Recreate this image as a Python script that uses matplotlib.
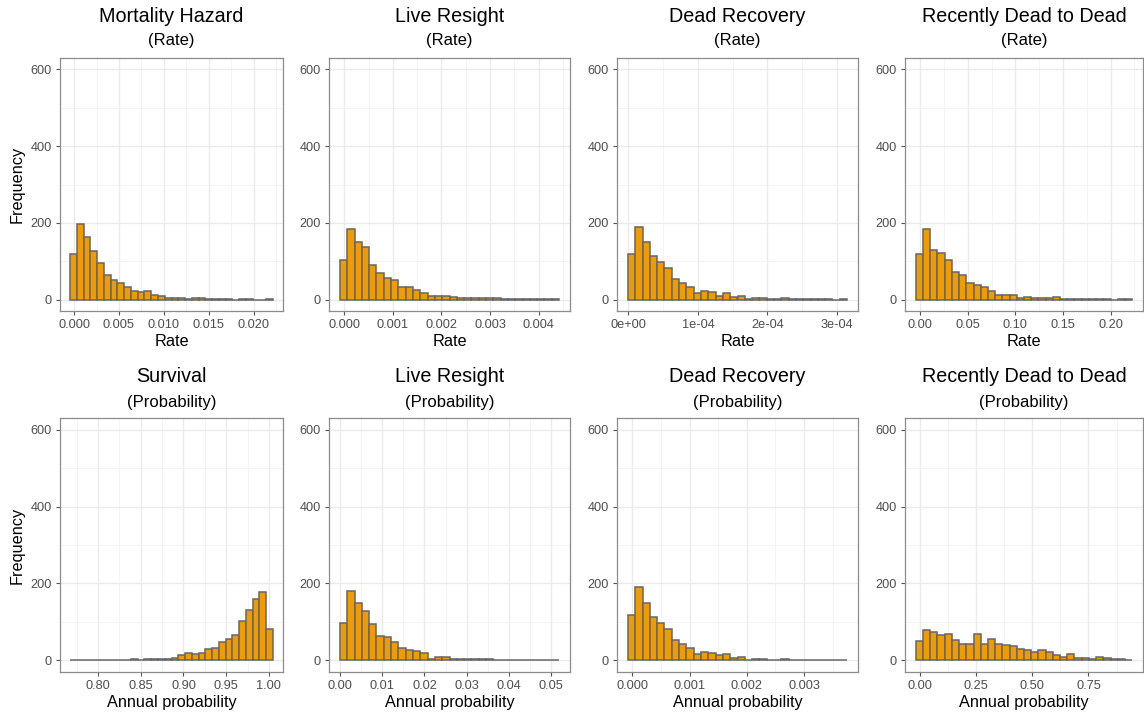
import numpy as np
import matplotlib
matplotlib.use("Agg")
from matplotlib import pyplot as plt
from matplotlib.ticker import MultipleLocator, FuncFormatter

plt.rcParams['font.family'] = ['Liberation Sans', 'DejaVu Sans']

# panel titles
titles = ['Mortality Hazard', 'Live Resight', 'Dead Recovery', 'Recently Dead to Dead',
          'Survival', 'Live Resight', 'Dead Recovery', 'Recently Dead to Dead']
subtitles = ['(Rate)'] * 4 + ['(Probability)'] * 4
xlabels = ['Rate'] * 4 + ['Annual probability'] * 4

# histogram bin ranges (30 bins each)
bin_lo = [-0.00044, -0.000088, -0.0063e-4, -0.00445, 0.7673, -0.0001, -0.000075, -0.0189]
bin_hi = [0.02214, 0.00442, 3.145e-4, 0.2226, 1.0047, 0.0520, 0.00375, 0.9448]

# counts per bin
mh_rate = [120, 198, 162, 127, 95, 65, 50, 43, 32, 23, 19, 22, 13, 8, 5, 3, 5, 2, 3, 3, 2, 1, 1, 1, 0, 1, 1, 0, 0, 1]
lr_rate = [103, 184, 151, 136, 91, 68, 57, 50, 33, 32, 25, 16, 10, 9, 10, 7, 3, 5, 3, 3, 5, 3, 1, 1, 1, 1, 2, 1, 1, 1]
dr_rate = [119, 190, 150, 113, 97, 82, 54, 43, 32, 17, 23, 20, 10, 17, 6, 8, 2, 3, 5, 2, 2, 3, 1, 1, 1, 1, 1, 1, 0, 1]
rdd_rate = [120, 184, 130, 122, 102, 73, 63, 43, 38, 33, 22, 11, 12, 12, 4, 6, 3, 3, 3, 6, 2, 2, 2, 2, 1, 1, 1, 0, 1, 2]
surv_prob = [1, 0, 0, 1, 2, 1, 1, 1, 2, 3, 1, 3, 4, 3, 5, 6, 13, 19, 17, 20, 30, 33, 48, 55, 66, 102, 131, 160, 177, 83]
lr_prob = [98, 181, 150, 128, 95, 63, 62, 49, 32, 27, 24, 19, 5, 10, 9, 5, 4, 4, 3, 3, 3, 2, 2, 1, 1, 1, 2, 1, 1, 1]
dr_prob = [119, 190, 148, 113, 97, 82, 53, 43, 32, 17, 22, 19, 14, 16, 6, 8, 1, 3, 5, 1, 2, 3, 1, 1, 1, 1, 1, 1, 1, 1]
rdd_prob = [50, 78, 75, 65, 68, 54, 43, 44, 70, 42, 56, 43, 39, 37, 29, 26, 23, 27, 22, 13, 9, 16, 6, 6, 3, 8, 6, 4, 3, 1]
counts = [mh_rate, lr_rate, dr_rate, rdd_rate, surv_prob, lr_prob, dr_prob, rdd_prob]

# x tick spacing and label format
x_steps = [0.005, 0.001, 1e-4, 0.05, 0.05, 0.01, 0.001, 0.25]
x_fmts = ['{:.3f}', '{:.3f}', '{:.0e}', '{:.2f}', '{:.2f}', '{:.2f}', '{:.3f}', '{:.2f}']

W, H = 1144, 717
fig = plt.figure(figsize=(W / 100, H / 100), dpi=100)

cols = [(60, 283), (329, 570), (617, 858), (905, 1143)]
rows = [(58, 311), (418, 672)]
title_y = [(16, 41), (377, 402)]

fill = '#F09B00'
edge = '#666666'

for i in range(8):
    r, c = divmod(i, 4)
    x0, x1 = cols[c]
    y0, y1 = rows[r]
    ax = fig.add_axes([x0 / W, 1 - y1 / H, (x1 - x0) / W, (y1 - y0) / H])

    edges = np.linspace(bin_lo[i], bin_hi[i], 31)
    w = edges[1] - edges[0]
    ax.bar(edges[:-1], counts[i], width=w, align='edge', color=fill,
           edgecolor=edge, linewidth=1.1, zorder=3)

    span = bin_hi[i] - bin_lo[i]
    ax.set_xlim(bin_lo[i] - 0.05 * span, bin_hi[i] + 0.05 * span)
    ax.set_ylim(-30, 630)

    ax.xaxis.set_major_locator(MultipleLocator(x_steps[i]))
    ax.xaxis.set_minor_locator(MultipleLocator(x_steps[i] / 2))
    fmt = x_fmts[i]
    ax.xaxis.set_major_formatter(FuncFormatter(lambda v, p, f=fmt: f.format(0.0 if abs(v) < 1e-12 else v)))
    ax.yaxis.set_major_locator(MultipleLocator(200))
    ax.yaxis.set_minor_locator(MultipleLocator(100))

    ax.grid(which='major', color='#EBEBEB', linewidth=1.0, zorder=0)
    ax.grid(which='minor', color='#F2F2F2', linewidth=0.6, zorder=0)
    ax.set_axisbelow(True)

    for s in ax.spines.values():
        s.set_color('#8C8C8C')
        s.set_linewidth(0.9)
    ax.tick_params(which='major', length=3, width=0.8, color='#555555',
                   labelsize=9.2, labelcolor='#4D4D4D', pad=3)
    ax.tick_params(which='minor', length=0)

    ax.set_xlabel(xlabels[i], fontsize=11.7, labelpad=2, color='black')
    if c == 0:
        ax.set_ylabel('Frequency', fontsize=11.7, labelpad=4, color='black')

    cx = (x0 + x1) / 2 / W
    fig.text(cx, 1 - title_y[r][0] / H, titles[i], ha='center', va='center', fontsize=14.2)
    fig.text(cx, 1 - title_y[r][1] / H, subtitles[i], ha='center', va='center', fontsize=12)

fig.savefig('out.png', dpi=100)
